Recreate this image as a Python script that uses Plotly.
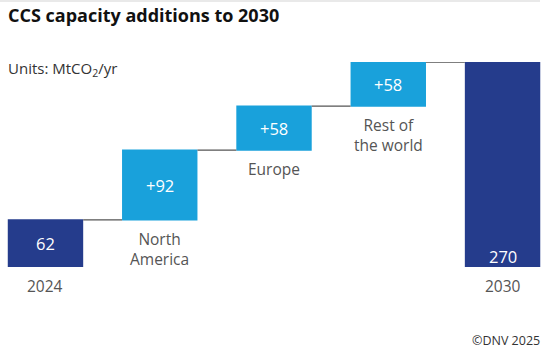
import plotly.graph_objects as go

categories = ["2024", "North<br>America", "Europe", "Rest of<br>the world", "2030"]
values = [62, 92, 58, 58, 270]
measures = ["absolute", "relative", "relative", "relative", "total"]
bar_text = ["62", "+92", "+58", "+58", "270"]

NAVY = "#253C8C"
LIGHT = "#19A1DB"
GREY_TXT = "#555555"
FONT = "Open Sans"

x = list(range(len(categories)))

fig = go.Figure(go.Waterfall(
    x=x, y=values, measure=measures,
    width=0.66,
    increasing=dict(marker=dict(color=LIGHT, line=dict(width=0))),
    decreasing=dict(marker=dict(color=LIGHT, line=dict(width=0))),
    totals=dict(marker=dict(color=NAVY, line=dict(width=0))),
    connector=dict(mode="between", line=dict(color="#555555", width=1.3)),
    hoverinfo="skip",
))

# compute bases/tops
bases, tops = [], []
running = 0
for v, m in zip(values, measures):
    if m == "absolute":
        b, t = 0, v
        running = v
    elif m == "relative":
        b, t = running, running + v
        running = t
    else:
        b, t = 0, running
    bases.append(b)
    tops.append(t)

LBL = 15.5
ann = []
for i, (b, t, txt, m) in enumerate(zip(bases, tops, bar_text, measures)):
    if m == "total":
        ann.append(dict(x=i, y=b, text=txt, showarrow=False, yanchor="middle", yshift=11,
                        font=dict(family=FONT, size=16.5, color="white")))
    else:
        ann.append(dict(x=i, y=(b + t) / 2, text=txt, showarrow=False, yanchor="middle",
                        font=dict(family=FONT, size=16.5, color="white")))
    nlines = categories[i].count("<br>") + 1
    shift = -19 - (nlines - 1) * LBL * 1.3 / 2
    ann.append(dict(x=i, y=b, text=categories[i], showarrow=False, yanchor="middle",
                    yshift=shift,
                    font=dict(family=FONT, size=LBL, color=GREY_TXT)))

ann.append(dict(xref="paper", yref="paper", x=0.0, y=1.0, xshift=6, yshift=62 - 15,
                text="<b>CCS capacity additions to 2030</b>", showarrow=False,
                xanchor="left", yanchor="middle",
                font=dict(family=FONT, size=18, color="#111111")))
ann.append(dict(xref="paper", yref="paper", x=0.0, y=1.0, xshift=6, yshift=62 - 69,
                text="Units: MtCO<sub>2</sub>/yr", showarrow=False,
                xanchor="left", yanchor="middle",
                font=dict(family=FONT, size=15, color="#333333")))
ann.append(dict(xref="paper", yref="paper", x=1.0, y=0.0, xshift=-5, yshift=-(340 - 267),
                text="©DNV 2025", showarrow=False,
                xanchor="right", yanchor="middle",
                font=dict(family=FONT, size=12.5, color="#333333")))

fig.update_layout(
    width=547, height=353,
    margin=dict(l=0, r=0, t=62, b=86),
    paper_bgcolor="white", plot_bgcolor="white",
    showlegend=False,
    xaxis=dict(range=[-0.398, 4.389], visible=False, fixedrange=True),
    yaxis=dict(range=[0, 270], visible=False, fixedrange=True),
    annotations=ann,
    shapes=[dict(type="line", xref="paper", yref="paper", x0=0, x1=540 / 547,
                 y0=1 + 61 / 205, y1=1 + 61 / 205,
                 line=dict(color="#e2e2e2", width=1.5))],
)

fig.write_html("out.html")
